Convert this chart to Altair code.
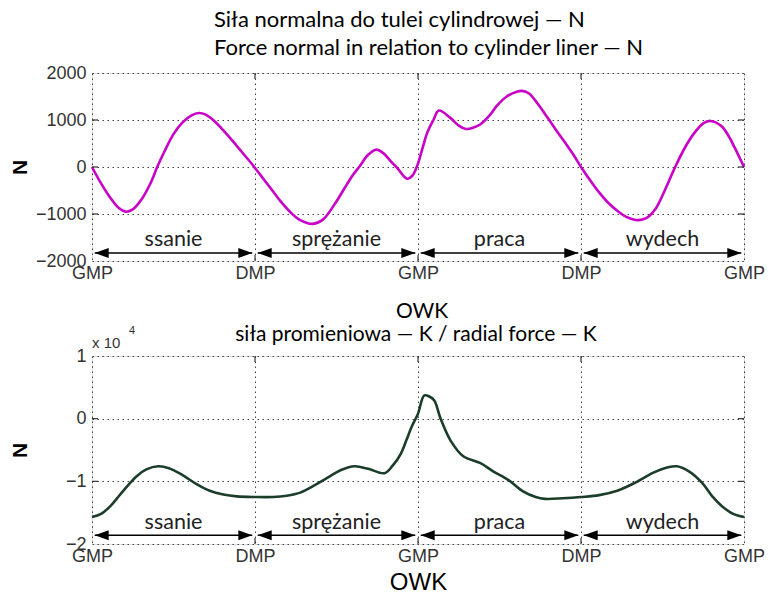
import altair as alt
import pandas as pd

# ---------------- data ----------------
deg_n = [0, 10, 20, 30, 37, 45, 55, 65, 72, 80, 90, 100, 110, 118, 125, 135, 145, 155, 165, 175,
         180, 190, 200, 210, 220, 230, 244, 255, 268, 278, 287, 295, 305, 314, 322, 330, 337, 348,
         354, 359, 365, 370, 377, 383, 396, 405, 413, 420, 429, 440, 447, 458, 469, 475, 483, 492,
         502, 512, 522, 532, 540, 550, 560, 570, 580, 590, 603, 612, 622, 632, 644, 655, 665, 675,
         683, 695, 703, 710, 720]
val_n = [0, -350, -650, -880, -950, -900, -680, -330, 0, 330, 700, 950, 1100, 1150, 1120, 980, 780,
         560, 330, 100, -20, -270, -520, -770, -980, -1130, -1210, -1120, -790, -480, -200, 0, 260,
         370, 290, 120, -20, -250, -180, 20, 400, 720, 1000, 1200, 1040, 880, 810, 830, 910, 1120,
         1300, 1500, 1600, 1620, 1560, 1350, 1080, 800, 530, 250, 0, -280, -540, -760, -930, -1060,
         -1130, -1090, -900, -520, 0, 420, 720, 930, 980, 870, 660, 400, 0]

deg_k = [0, 10, 20, 30, 40, 50, 60, 73, 85, 100, 115, 130, 145, 160, 180, 200, 215, 230, 245, 257,
         275, 290, 305, 323, 332, 341, 347, 353, 360, 367, 373, 378, 385, 396, 410, 429, 443, 460,
         476, 490, 500, 520, 540, 560, 580, 600, 620, 635, 646, 660, 674, 685, 696, 708, 720]
val_k = [-15700, -15200, -14000, -12300, -10600, -9100, -8100, -7600, -7900, -9000, -10400,
         -11500, -12100, -12400, -12500, -12500, -12300, -11800, -10700, -9700, -8200, -7600,
         -8000, -8700, -7500, -5600, -3500, -1300, 800, 3700, 3500, 2900, 0, -3500, -6000, -7100,
         -8400, -9800, -11600, -12500, -12800, -12700, -12500, -12200, -11500, -10200, -8600,
         -7800, -7600, -8500, -10300, -12400, -14000, -15200, -15700]

phase_start = [0, 180, 360, 540]
phase_end = [180, 360, 540, 720]
phase_name = ["ssanie", "sprężanie", "praca", "wydech"]

x_ticks = [0, 180, 360, 540, 720]
x_tick_labels = ["GMP", "DMP", "GMP", "DMP", "GMP"]
n_ticks = [-2000, -1000, 0, 1000, 2000]
k_ticks = [-20000, -10000, 0, 10000]

title_top = ["Siła normalna do tulei cylindrowej — N",
             "Force normal in relation to cylinder liner — N"]
title_bottom = ["OWK", "siła promieniowa — K / radial force — K"]
multiplier = ["x 10", "4"]

# ---------------- styling constants ----------------
W, H = 652, 188
AXIS_FONT = "Liberation Sans"
TEXT_FONT = "Lato"
AXIS_COLOR = "#333333"
GAP = 3  # arrow gap in degrees
RIGHT_HEAD = "M0,0L-1,-0.36L-1,0.36Z"
LEFT_HEAD = "M0,0L1,-0.36L1,0.36Z"

df_n = pd.DataFrame({"x": deg_n, "y": val_n})
df_k = pd.DataFrame({"x": deg_k, "y": val_k})
df_ph = pd.DataFrame({"s": phase_start, "e": phase_end, "name": phase_name})
df_ph["a"] = df_ph["s"] + GAP
df_ph["b"] = df_ph["e"] - GAP
df_ph["m"] = (df_ph["s"] + df_ph["e"]) / 2
df_xt = pd.DataFrame({"x": x_ticks[1:-1]})

label_expr = " : ".join(
    [f"datum.value == {v} ? '{l}'" for v, l in zip(x_ticks[:-1], x_tick_labels[:-1])]
) + f" : '{x_tick_labels[-1]}'"


def panel(df, color, y_domain, y_ticks, y_label_expr, arrow_y, text_y, x_title):
    xscale = alt.Scale(domain=[0, 720], nice=False, zero=False)
    yscale = alt.Scale(domain=y_domain, nice=False, zero=False)
    x_axis = alt.Axis(values=x_ticks, labelExpr=label_expr, grid=True, ticks=False,
                      labelFont=AXIS_FONT, labelFontSize=18, labelColor=AXIS_COLOR,
                      labelPadding=3, domain=False, gridDash=[1.5, 3.5], gridColor="#444",
                      gridWidth=1, title=x_title, titleFont=AXIS_FONT, titleFontSize=24,
                      titleFontWeight="normal", titleColor="black", titleY=38,
                      titleBaseline="middle", labelFlush=False)
    y_axis = alt.Axis(values=y_ticks, grid=True, ticks=False, labelFont=AXIS_FONT,
                      labelFontSize=18, labelColor=AXIS_COLOR, labelPadding=6, domain=False,
                      gridDash=[1.5, 3.5], gridColor="#444", gridWidth=1, title="N",
                      titleFont=AXIS_FONT, titleFontSize=21, titleFontWeight="bold",
                      titleColor="black", titleX=-72, titleY=H / 2, titleAngle=270,
                      titleAlign="center", titleBaseline="middle", labelFlush=False,
                      labelOverlap=False, labelExpr=y_label_expr)

    line = alt.Chart(df).mark_line(color=color, strokeWidth=2.6,
                                   interpolate="catmull-rom").encode(
        x=alt.X("x:Q", scale=xscale, axis=x_axis),
        y=alt.Y("y:Q", scale=yscale, axis=y_axis),
    )
    ph = alt.Chart(df_ph)
    arrows = ph.mark_rule(color="black", strokeWidth=1.3).encode(
        x=alt.X("a:Q", scale=xscale), x2="b:Q", y=alt.datum(arrow_y))
    head_r = ph.mark_point(shape=RIGHT_HEAD, filled=True, size=784, color="black",
                           opacity=1, strokeWidth=0).encode(
        x=alt.X("b:Q", scale=xscale), y=alt.datum(arrow_y))
    head_l = ph.mark_point(shape=LEFT_HEAD, filled=True, size=784, color="black",
                           opacity=1, strokeWidth=0).encode(
        x=alt.X("a:Q", scale=xscale), y=alt.datum(arrow_y))
    labels = ph.mark_text(font=TEXT_FONT, fontSize=21.5, color="#222", baseline="middle").encode(
        x=alt.X("m:Q", scale=xscale), y=alt.datum(text_y), text="name:N")
    # inner ticks (MATLAB style)
    xt = alt.Chart(df_xt)
    xt_top = xt.mark_rule(color=AXIS_COLOR, strokeWidth=1.2).encode(
        x=alt.X("x:Q", scale=xscale), y=alt.value(0), y2=alt.value(6))
    xt_bot = xt.mark_rule(color=AXIS_COLOR, strokeWidth=1.2).encode(
        x=alt.X("x:Q", scale=xscale), y=alt.value(H - 6), y2=alt.value(H))
    inner = [v for v in y_ticks if y_domain[0] < v < y_domain[1]]
    yt = alt.Chart(pd.DataFrame({"v": inner}))
    yt_l = yt.mark_rule(color=AXIS_COLOR, strokeWidth=1.2).encode(
        y=alt.Y("v:Q", scale=yscale), x=alt.value(0), x2=alt.value(6))
    yt_r = yt.mark_rule(color=AXIS_COLOR, strokeWidth=1.2).encode(
        y=alt.Y("v:Q", scale=yscale), x=alt.value(W - 6), x2=alt.value(W))
    return [line, arrows, head_r, head_l, labels, xt_top, xt_bot, yt_l, yt_r]


top = alt.layer(*panel(df_n, "#C800C8", [-2000, 2000], n_ticks,
                       "format(datum.value, 'd')", -1830, -1560, None)).properties(
    width=W, height=H,
    title=alt.TitleParams(text=title_top, anchor="start", frame="group", dx=122,
                          font=TEXT_FONT, fontSize=22, fontWeight="normal", color="black",
                          lineHeight=28, offset=4))

one = pd.DataFrame({"k": [0]})
t1 = alt.Chart(one).mark_text(font=TEXT_FONT, fontSize=21, color="black", align="center",
                              baseline="middle").encode(
    x=alt.value(W / 2 + 4), y=alt.value(-44), text=alt.value(title_bottom[0]))
t2 = alt.Chart(one).mark_text(font=TEXT_FONT, fontSize=21, color="black", align="center",
                              baseline="middle").encode(
    x=alt.value(W / 2 - 2), y=alt.value(-21), text=alt.value(title_bottom[1]))
mult = alt.Chart(one).mark_text(font=AXIS_FONT, fontSize=15, color=AXIS_COLOR, align="left",
                                baseline="middle").encode(
    x=alt.value(0), y=alt.value(-13), text=alt.value(multiplier[0]))
sup = alt.Chart(one).mark_text(font=AXIS_FONT, fontSize=11, color=AXIS_COLOR, align="left",
                               baseline="middle").encode(
    x=alt.value(37), y=alt.value(-25), text=alt.value(multiplier[1]))

bottom = alt.layer(*panel(df_k, "#1B3D29", [-20000, 10000], k_ticks,
                          "format(datum.value / 10000, 'd')", -18600, -16700, "OWK"),
                   t1, t2, mult, sup).properties(width=W, height=H)

chart = alt.vconcat(top, bottom, spacing=17).properties(padding=0).configure_view(
    stroke="#444", strokeWidth=1.4).configure(background="white")

chart.save("out.html", embed_options={"renderer": "svg", "actions": False})
